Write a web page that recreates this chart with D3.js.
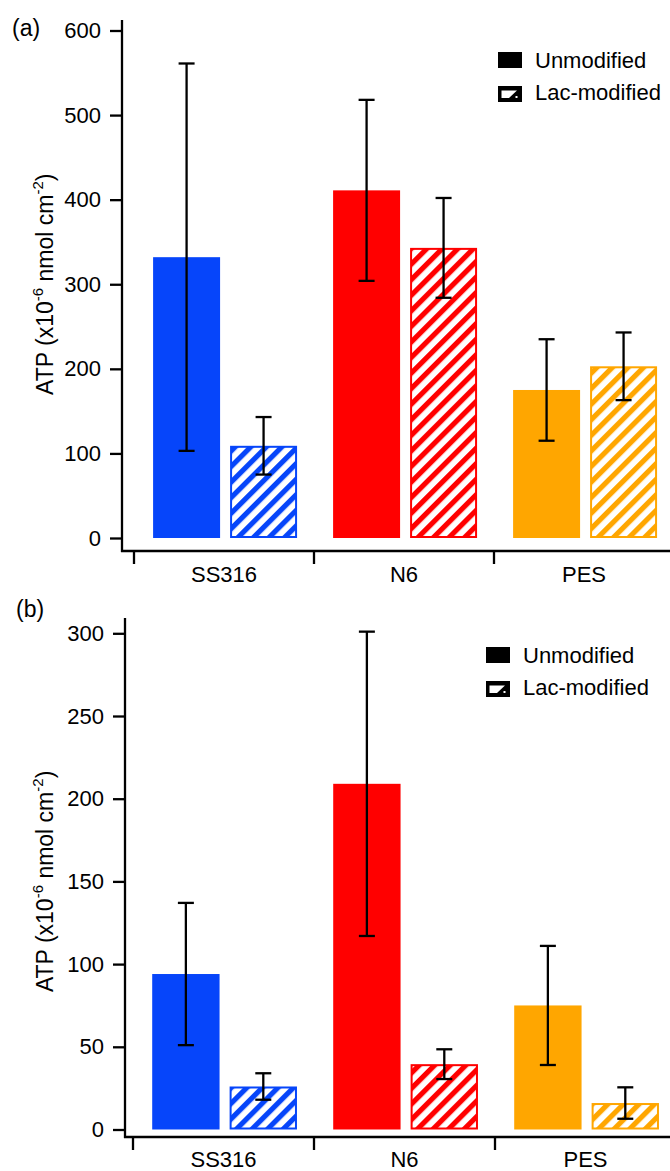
<!DOCTYPE html>
<html>
<head>
<meta charset="utf-8">
<script src="https://cdn.jsdelivr.net/npm/d3@7/dist/d3.min.js"></script>
<style>
  html, body { margin: 0; padding: 0; background: #fff; }
  svg { display: block; }
  text { font-family: "Liberation Sans", Arial, Helvetica, sans-serif; fill: #000; }
</style>
</head>
<body>
<svg id="chart" width="670" height="1171"></svg>
<script>
// ---------------- data ----------------
const categories = ["SS316", "N6", "PES"];
const series = ["Unmodified", "Lac-modified"];
const colors = ["#0645fa", "#ff0000", "#ffa600"];

// panel (a)
const aTicks = [0, 100, 200, 300, 400, 500, 600];
const aUnmod = [332, 411, 175];
const aUnmodErr = [229, 107, 60];
const aLac = [109, 343, 203];
const aLacErr = [34, 59, 40];

// panel (b)
const bTicks = [0, 50, 100, 150, 200, 250, 300];
const bUnmod = [94, 209, 75];
const bUnmodErr = [43, 92, 36];
const bLac = [26, 39.5, 16];
const bLacErr = [8, 9, 9.5];

// ---------------- drawing ----------------
const svg = d3.select("#chart");
const FONT = 22;

const defs = svg.append("defs");
colors.forEach((c, i) => {
  const p = defs.append("pattern")
    .attr("id", "hatch" + i)
    .attr("patternUnits", "userSpaceOnUse")
    .attr("width", 11).attr("height", 11)
    .attr("patternTransform", "rotate(45)");
  p.append("rect").attr("width", 11).attr("height", 11).attr("fill", "#fff");
  p.append("rect").attr("x", 0).attr("width", 5.2).attr("height", 11).attr("fill", c);
});

function drawPanel(cfg) {
  const g = svg.append("g");
  const y = d3.scaleLinear().domain(cfg.domain).range([cfg.y0, cfg.yTop]);
  const x = d3.scaleBand().domain(categories).range([cfg.xStart, cfg.xStart + cfg.band * 3]).padding(0);
  const xs = d3.scaleBand().domain(series).range([0, x.bandwidth()])
    .paddingInner(10 / 77).paddingOuter(0.234).align(0.53);

  const rows = categories.map((c, i) => ({
    cat: c, i,
    vals: [
      { s: series[0], v: cfg.unmod[i], e: cfg.unmodErr[i] },
      { s: series[1], v: cfg.lac[i], e: cfg.lacErr[i] }
    ]
  }));
  const cg = g.selectAll("g.cat").data(rows).join("g")
    .attr("transform", d => `translate(${x(d.cat)},0)`);

  cg.each(function (d) {
    const sel = d3.select(this);
    const u = d.vals[0];
    sel.append("rect")
      .attr("x", xs(u.s)).attr("width", xs.bandwidth())
      .attr("y", y(u.v)).attr("height", y(0) - y(u.v))
      .attr("fill", colors[d.i]);
    const l = d.vals[1];
    sel.append("rect")
      .attr("x", xs(l.s) + 1).attr("width", xs.bandwidth() - 2)
      .attr("y", y(l.v) + 1).attr("height", y(0) - y(l.v) - 2)
      .attr("fill", `url(#hatch${d.i})`)
      .attr("stroke", colors[d.i]).attr("stroke-width", 2);
    d.vals.forEach(v => {
      const cx = xs(v.s) + xs.bandwidth() / 2;
      const eg = sel.append("g").attr("stroke", "#000").attr("stroke-width", 2.3);
      eg.append("line").attr("x1", cx).attr("x2", cx).attr("y1", y(v.v + v.e)).attr("y2", y(v.v - v.e));
      eg.append("line").attr("x1", cx - 8).attr("x2", cx + 8).attr("y1", y(v.v + v.e)).attr("y2", y(v.v + v.e));
      eg.append("line").attr("x1", cx - 8).attr("x2", cx + 8).attr("y1", y(v.v - v.e)).attr("y2", y(v.v - v.e));
    });
  });

  // y axis
  const yAxis = d3.axisLeft(y).tickValues(cfg.ticks).tickSize(12).tickPadding(9).tickSizeOuter(0);
  const ya = g.append("g").attr("transform", `translate(${cfg.axisX},0)`).call(yAxis);
  ya.select(".domain").remove();
  ya.selectAll(".tick line").attr("stroke", "#000").attr("stroke-width", 2.3);
  ya.selectAll(".tick text").attr("font-size", FONT).attr("fill", "#000")
    .attr("font-family", "Liberation Sans, Arial, sans-serif");
  g.append("line").attr("x1", cfg.axisX).attr("x2", cfg.axisX)
    .attr("y1", cfg.axisTop).attr("y2", cfg.xAxisY + 1)
    .attr("stroke", "#000").attr("stroke-width", 2.3);

  // x axis
  g.append("line").attr("x1", cfg.axisX - 1).attr("x2", 672)
    .attr("y1", cfg.xAxisY).attr("y2", cfg.xAxisY)
    .attr("stroke", "#000").attr("stroke-width", 2.3);
  const sep = categories.map(c => x(c)).concat([x(categories[2]) + x.bandwidth()]);
  g.selectAll("line.sep").data(sep).join("line")
    .attr("x1", d => d).attr("x2", d => d)
    .attr("y1", cfg.xAxisY).attr("y2", cfg.xAxisY + 13)
    .attr("stroke", "#000").attr("stroke-width", 2.3);
  g.selectAll("text.cat").data(categories).join("text")
    .attr("x", d => x(d) + x.bandwidth() / 2)
    .attr("y", cfg.catBaseline)
    .attr("text-anchor", "middle").attr("font-size", FONT)
    .text(d => d);

  // y title
  const midY = (cfg.y0 + cfg.yTop) / 2;
  const t = g.append("text")
    .attr("transform", `translate(${cfg.titleX},${midY}) rotate(-90)`)
    .attr("text-anchor", "middle").attr("font-size", 23);
  t.append("tspan").text("ATP (x10");
  t.append("tspan").attr("dy", -10).attr("font-size", 15).text("-6");
  t.append("tspan").attr("dy", 10).text(" nmol cm");
  t.append("tspan").attr("dy", -10).attr("font-size", 15).text("-2");
  t.append("tspan").attr("dy", 10).text(")");

  // panel label
  g.append("text").attr("x", cfg.labelX).attr("y", cfg.labelY)
    .attr("font-size", FONT + 1).text(cfg.label);

  // legend
  const lg = g.append("g");
  lg.append("rect").attr("x", cfg.legX).attr("y", cfg.legY1 - 16)
    .attr("width", 24).attr("height", 16).attr("fill", "#000");
  lg.append("text").attr("x", cfg.legX + 37).attr("y", cfg.legY1)
    .attr("font-size", FONT).text(series[0]);
  const bx = cfg.legX, by = cfg.legY2 - 14;
  lg.append("rect").attr("x", bx + 1.2).attr("y", by + 1.2)
    .attr("width", 21.6).attr("height", 13.6)
    .attr("fill", "#000").attr("stroke", "#000").attr("stroke-width", 2.4);
  lg.append("path")
    .attr("d", `M${bx + 3.5},${by + 4.5} L${bx + 19},${by + 4.5} L${bx + 11},${by + 12} L${bx + 3.5},${by + 12} Z`)
    .attr("fill", "#fff");
  lg.append("rect").attr("x", bx + 17.5).attr("y", by + 10).attr("width", 2).attr("height", 2).attr("fill", "#fff");
  lg.append("text").attr("x", cfg.legX + 37).attr("y", cfg.legY2)
    .attr("font-size", FONT).text(series[1]);
}

drawPanel({
  label: "(a)", labelX: 12, labelY: 36,
  domain: [0, 600], ticks: aTicks, y0: 538, yTop: 30.5,
  axisX: 122, axisTop: 20, xAxisY: 551, xStart: 134, band: 180,
  catBaseline: 582, titleX: 53,
  unmod: aUnmod, unmodErr: aUnmodErr, lac: aLac, lacErr: aLacErr,
  legX: 498, legY1: 68, legY2: 100
});

drawPanel({
  label: "(b)", labelX: 16, labelY: 617,
  domain: [0, 300], ticks: bTicks, y0: 1129.5, yTop: 633.3,
  axisX: 125, axisTop: 618, xAxisY: 1137, xStart: 133, band: 181,
  catBaseline: 1167, titleX: 53,
  unmod: bUnmod, unmodErr: bUnmodErr, lac: bLac, lacErr: bLacErr,
  legX: 486, legY1: 663, legY2: 695
});
</script>
</body>
</html>
